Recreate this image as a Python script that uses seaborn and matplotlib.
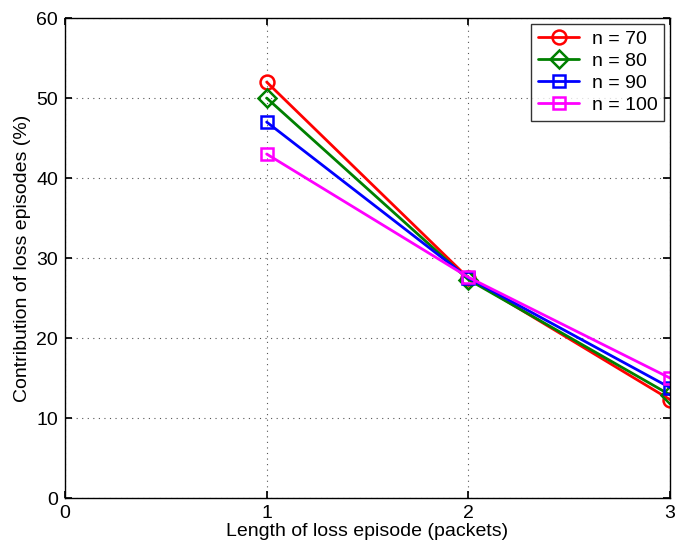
import matplotlib
matplotlib.use("Agg")
import matplotlib.pyplot as plt
import seaborn as sns
import pandas as pd

# Loss-episode length (packets) and contribution (%) for each n
lengths = [1, 2, 3]
series_names = ["n = 70", "n = 80", "n = 90", "n = 100"]
contrib_n70 = [52.0, 27.5, 12.3]
contrib_n80 = [50.0, 27.3, 12.9]
contrib_n90 = [47.0, 27.5, 13.8]
contrib_n100 = [43.0, 27.6, 15.0]

colors = ["#ff0000", "#008000", "#0000ff", "#ff00ff"]
markers = ["o", "D", "s", "s"]
msizes = [10, 9, 8, 8]

sns.set_theme(style="white")
plt.rcParams["font.family"] = ["Liberation Sans", "DejaVu Sans"]
plt.rcParams["text.color"] = "black"
plt.rcParams["axes.labelcolor"] = "black"
plt.rcParams["xtick.color"] = "black"
plt.rcParams["ytick.color"] = "black"

fig = plt.figure(figsize=(6.75, 5.5), dpi=100)
ax = fig.add_axes([0.0963, 0.0945, 0.8963, 0.8727])

all_vals = [contrib_n70, contrib_n80, contrib_n90, contrib_n100]
for name, vals, c, m, ms in zip(series_names, all_vals, colors, markers, msizes):
    df = pd.DataFrame({"length": lengths, "contrib": vals})
    sns.lineplot(data=df, x="length", y="contrib", ax=ax, color=c, marker=m,
                 markersize=ms, markerfacecolor="none", markeredgecolor=c,
                 markeredgewidth=1.8, linewidth=2, label=name)

ax.set_xlim(0, 3)
ax.set_ylim(0, 60)
ax.set_xticks([0, 1, 2, 3])
ax.set_yticks(range(0, 61, 10))
ax.set_xlabel("Length of loss episode (packets)", fontsize=14, labelpad=1)
ax.set_ylabel("Contribution of loss episodes (%)", fontsize=14, labelpad=4)
ax.tick_params(direction="in", labelsize=14, length=5, color="black",
               labelcolor="black", top=True, right=True, bottom=True,
               left=True, pad=5)
ax.grid(True, linestyle=(0, (1, 4)), color="#555555", linewidth=0.8)
for sp in ax.spines.values():
    sp.set_color("black")
    sp.set_linewidth(1.0)

leg = ax.legend(loc="upper right", fontsize=14, frameon=True, fancybox=False,
                edgecolor="black", handlelength=2.1, borderaxespad=0.3,
                labelspacing=0.22, borderpad=0.35, handletextpad=0.65)
leg.get_frame().set_linewidth(1.0)

fig.savefig("out.png", dpi=100)
